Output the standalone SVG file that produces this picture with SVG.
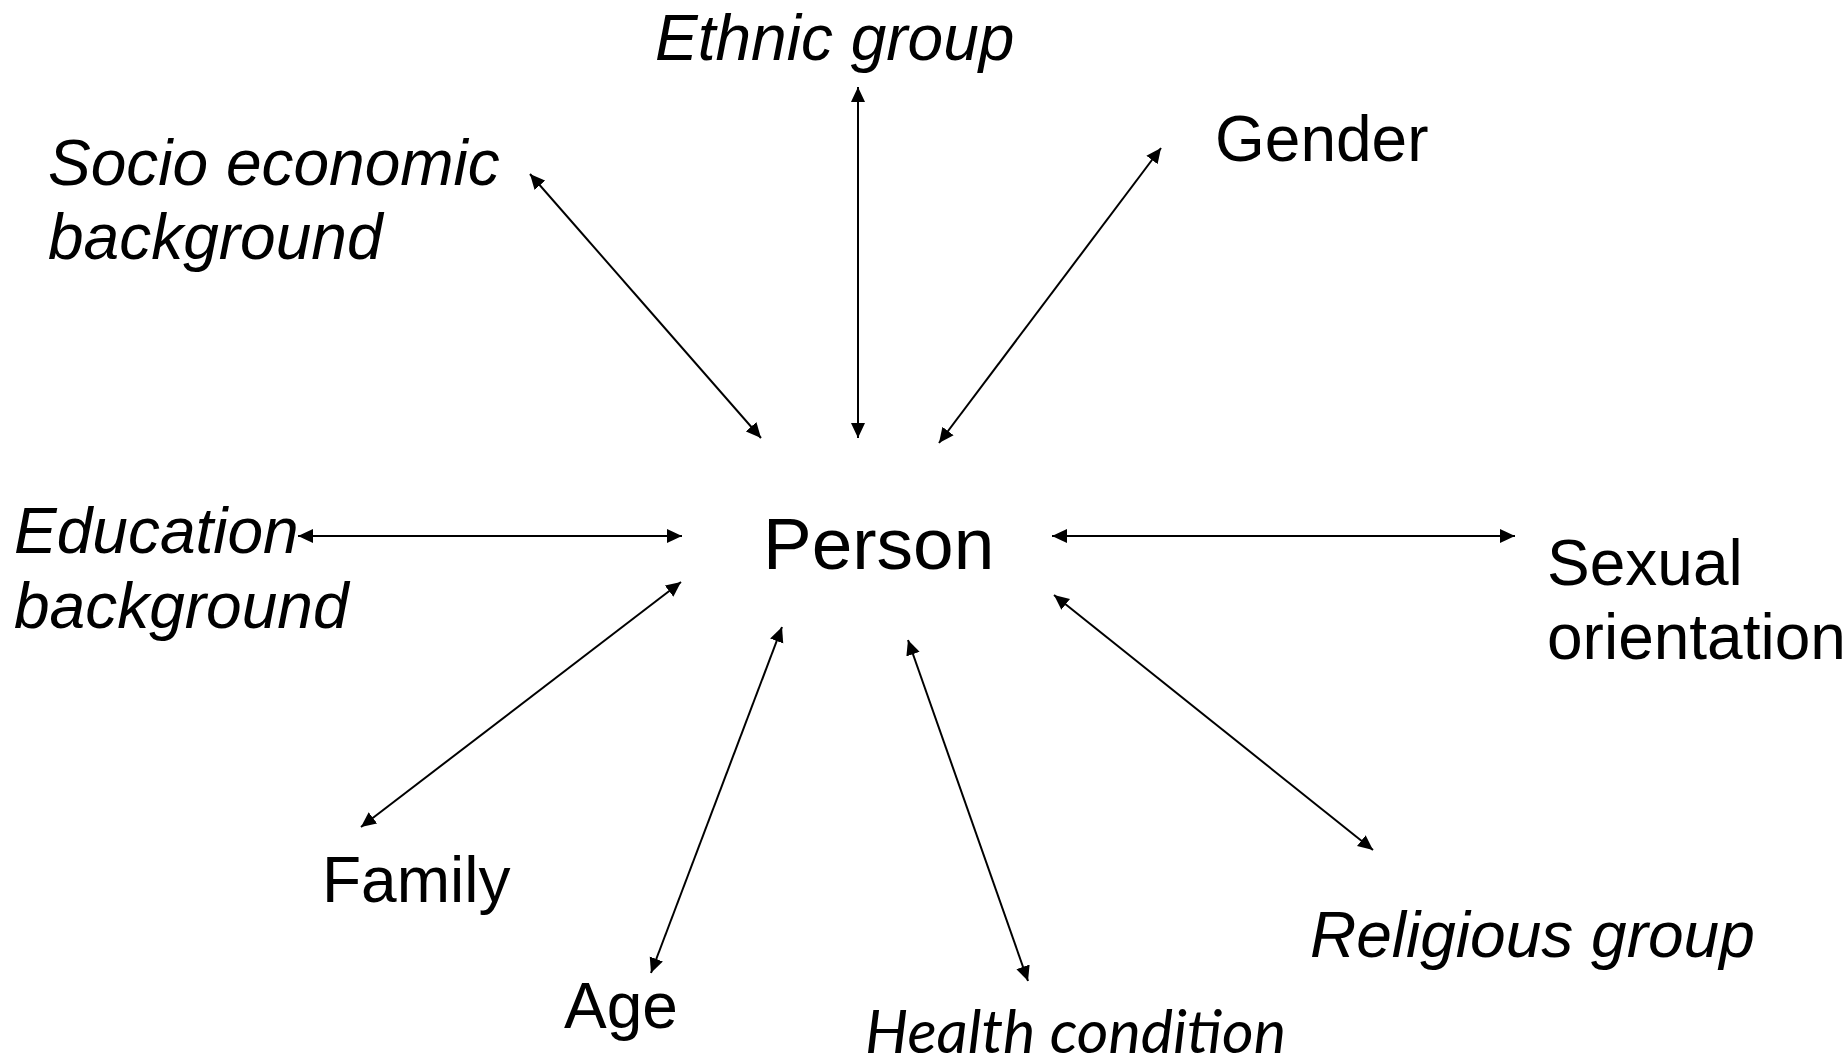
<svg xmlns="http://www.w3.org/2000/svg" width="1847" height="1058" viewBox="0 0 1847 1058">
<style>
  .lbl { font-family: "Liberation Sans", Arial, sans-serif; font-size: 64px; fill: #000; }
  .it { font-style: italic; }
  .cal { font-family: Lato, "Open Sans", sans-serif; font-style: italic; font-size: 61px; fill: #000; }
  .conn line { stroke: #000; stroke-width: 2; marker-start: url(#ah); marker-end: url(#ah); }
</style>
<defs>
  <marker id="ah" markerUnits="userSpaceOnUse" markerWidth="16" markerHeight="15" refX="15" refY="7" orient="auto-start-reverse" viewBox="0 0 16 14">
    <path d="M0,0 L15,7 L0,14 z" fill="#000"/>
  </marker>
</defs>
<rect width="1847" height="1058" fill="#fff"/>
<g id="connectors" class="conn">
  <line x1="530" y1="174" x2="761" y2="438"/>
  <line x1="858" y1="87" x2="858" y2="438"/>
  <line x1="1161" y1="148" x2="939" y2="443"/>
  <line x1="298" y1="536" x2="682" y2="536"/>
  <line x1="1052" y1="536" x2="1515" y2="536"/>
  <line x1="681" y1="582" x2="361" y2="827"/>
  <line x1="782" y1="627" x2="651" y2="973"/>
  <line x1="908" y1="640" x2="1028" y2="981"/>
  <line x1="1054" y1="595" x2="1373" y2="850"/>
</g>
<g id="person"><text class="lbl" x="763" y="569" style="font-size:73px">Person</text></g>
<g id="ethnic"><text class="lbl it" x="655" y="60">Ethnic group</text></g>
<g id="socio"><text class="lbl it" x="48" y="185">Socio economic</text><text class="lbl it" x="48" y="259">background</text></g>
<g id="gender"><text class="lbl" x="1215" y="161">Gender</text></g>
<g id="education"><text class="lbl it" x="14" y="553">Education</text><text class="lbl it" x="14" y="628">background</text></g>
<g id="sexual"><text class="lbl" x="1547" y="585">Sexual</text><text class="lbl" x="1547" y="659">orientation</text></g>
<g id="family"><text class="lbl" x="322" y="902">Family</text></g>
<g id="age"><text class="lbl" x="564" y="1028">Age</text></g>
<g id="health"><text class="cal" x="865" y="1053">Health condition</text></g>
<g id="religious"><text class="lbl it" x="1310" y="957">Religious group</text></g>
</svg>
